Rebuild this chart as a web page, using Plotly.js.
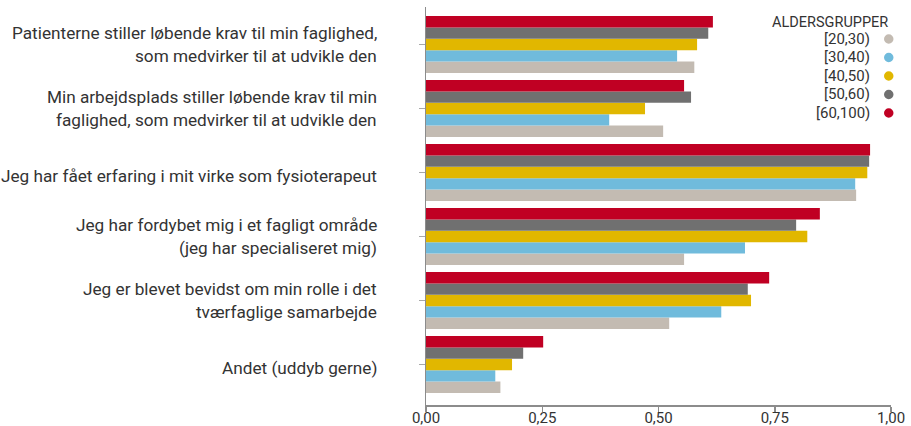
<!DOCTYPE html>
<html>
<head>
<meta charset="utf-8">
<script src="https://cdn.plot.ly/plotly-3.0.1.min.js"></script>
<style>
  html, body { margin: 0; padding: 0; background: #fff; }
  #chart { width: 911px; height: 426px; }
</style>
</head>
<body>
<div id="chart"></div>
<script>
// ---- data (top-to-bottom order of the chart) ----
const categories = [
  'Patienterne stiller løbende krav til min faglighed,<br>som medvirker til at udvikle den',
  'Min arbejdsplads stiller løbende krav til min<br>faglighed, som medvirker til at udvikle den',
  'Jeg har fået erfaring i mit virke som fysioterapeut',
  'Jeg har fordybet mig i et fagligt område<br>(jeg har specialiseret mig)',
  'Jeg er blevet bevidst om min rolle i det<br>tværfaglige samarbejde',
  'Andet (uddyb gerne)'
];
const groups = ['[20,30)', '[30,40)', '[40,50)', '[50,60)', '[60,100)'];
const v20_30  = [0.577, 0.510, 0.925, 0.555, 0.523, 0.160];
const v30_40  = [0.540, 0.394, 0.923, 0.686, 0.635, 0.149];
const v40_50  = [0.583, 0.471, 0.949, 0.820, 0.699, 0.185];
const v50_60  = [0.607, 0.570, 0.953, 0.796, 0.692, 0.209];
const v60_100 = [0.617, 0.555, 0.955, 0.847, 0.738, 0.252];
const xTickVals = [0, 0.25, 0.5, 0.75, 1];
const legendTitle = 'ALDERSGRUPPER';

// ---- styling ----
const colors = ['#c3bbb2', '#70bbdc', '#e1b700', '#707070', '#c00023'];
const series = [v20_30, v30_40, v40_50, v50_60, v60_100];
const textColor = '#333333';
const fontFamily = 'Roboto, "Open Sans", sans-serif';

const traces = series.map((vals, i) => ({
  type: 'bar',
  orientation: 'h',
  name: groups[i],
  x: vals,
  y: categories,
  marker: { color: colors[i] },
  hoverinfo: 'x+name'
}));

// category labels as annotations (for wider line spacing)
const annotations = [];
categories.forEach(cat => {
  const lines = cat.split('<br>');
  const n = lines.length;
  lines.forEach((line, i) => {
    annotations.push({
      xref: 'paper', yref: 'y',
      x: 0, y: cat,
      xanchor: 'right', yanchor: 'middle',
      xshift: -47,
      yshift: n === 1 ? -3.5 : ((n - 1) / 2 - i) * 23.5,
      text: line,
      showarrow: false,
      font: { family: fontFamily, size: 17.2, color: textColor }
    });
  });
});

// legend (text left of round marker)
const plotTop = 7, plotBottom = 405, plotH = plotBottom - plotTop;
const py = p => (plotBottom - p) / plotH;
annotations.push({
  xref: 'paper', yref: 'paper', x: 1, y: py(22), xshift: -1,
  xanchor: 'right', yanchor: 'middle', showarrow: false,
  text: legendTitle,
  font: { family: fontFamily, size: 14.5, color: textColor }
});
const shapes = [];
const itemY = [39, 57.5, 76, 94.5, 113];
groups.forEach((g, i) => {
  annotations.push({
    xref: 'paper', yref: 'paper', x: 1, y: py(itemY[i]), xshift: -19,
    xanchor: 'right', yanchor: 'middle', showarrow: false,
    text: g,
    font: { family: fontFamily, size: 15, color: textColor }
  });
  shapes.push({
    type: 'circle', xref: 'paper', yref: 'paper',
    xsizemode: 'pixel', ysizemode: 'pixel',
    xanchor: 1, yanchor: py(itemY[i]),
    x0: -7, x1: 2.5, y0: -4.7, y1: 4.7,
    fillcolor: colors[i], line: { width: 0 }
  });
});

const layout = {
  width: 911, height: 426,
  margin: { l: 426, r: 20, t: 7, b: 21, pad: 0 },
  paper_bgcolor: '#ffffff', plot_bgcolor: '#ffffff',
  barmode: 'group',
  bargap: 0.11,
  bargroupgap: 0,
  showlegend: false,
  separators: ',.',
  font: { family: fontFamily, color: textColor },
  xaxis: {
    range: [0, 1],
    tickvals: xTickVals,
    tickformat: '.2f',
    showgrid: false, zeroline: false,
    showline: true, linecolor: '#8c8c8c', linewidth: 1.5,
    ticks: 'outside', ticklen: 5, tickcolor: '#8c8c8c', tickwidth: 1.5,
    ticklabelstandoff: -7,
    tickfont: { family: fontFamily, size: 15, color: textColor },
    fixedrange: true
  },
  yaxis: {
    type: 'category',
    categoryorder: 'array',
    categoryarray: categories.slice().reverse(),
    range: [-0.633, 5.586],
    showgrid: false, zeroline: false,
    showline: true, linecolor: '#8c8c8c', linewidth: 1.5,
    ticks: 'outside', ticklen: 6, tickcolor: '#a8a8a8', tickwidth: 1.5,
    showticklabels: false,
    fixedrange: true
  },
  annotations: annotations,
  shapes: shapes
};

Plotly.newPlot('chart', traces, layout, { displayModeBar: false, staticPlot: true });
</script>
</body>
</html>
